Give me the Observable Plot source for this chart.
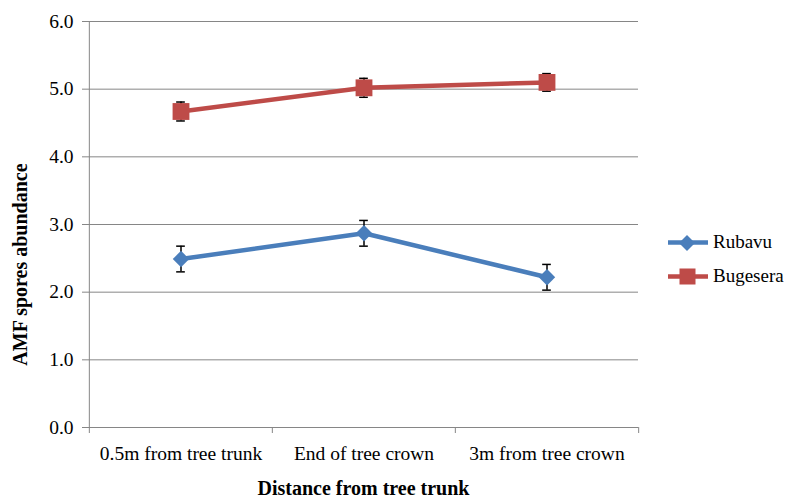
<!DOCTYPE html>
<html>
<head>
<meta charset="utf-8">
<script src="https://cdn.jsdelivr.net/npm/d3@7"></script>
<script src="https://cdn.jsdelivr.net/npm/@observablehq/plot@0.6"></script>
<style>
  html, body { margin: 0; padding: 0; background: #fff; font-family: 'Liberation Serif', serif; }
  #wrap { position: relative; width: 785px; height: 498px; font-family: 'Liberation Serif', serif; }
  #legend { position: absolute; left: 666px; top: 225px; font-size: 19px; color: #000; font-family: 'Liberation Serif', serif; }
  .row { display: flex; align-items: center; height: 34px; }
  .row svg { margin-right: 3px; }
  .row span { font-family: 'Liberation Serif', serif; }
</style>
</head>
<body>
<div id="wrap"><div id="legend"></div></div>
<script>
const categories = ["0.5m from tree trunk", "End of tree crown", "3m from tree crown"];
const seriesNames = ["Rubavu", "Bugesera"];
const rubavuValues = [2.49, 2.87, 2.22];
const rubavuErrors = [0.19, 0.19, 0.19];
const bugeseraValues = [4.67, 5.02, 5.10];
const bugeseraErrors = [0.14, 0.14, 0.13];
const yTicks = [0, 1, 2, 3, 4, 5, 6];
const seriesColors = ["#4A7EBB", "#BE4B48"];
const seriesSymbols = ["diamond2", "square"];
const xTitle = "Distance from tree trunk";
const yTitle = "AMF spores abundance";

const rows = [];
categories.forEach((c, i) => {
  rows.push({cat: c, series: seriesNames[0], value: rubavuValues[i], err: rubavuErrors[i]});
});
categories.forEach((c, i) => {
  rows.push({cat: c, series: seriesNames[1], value: bugeseraValues[i], err: bugeseraErrors[i]});
});

const W = 785, H = 498, mL = 88, mR = 147, mT = 21, mB = 71;
const bw = (W - mL - mR) / categories.length;
const grid = "#868686";
const serif = "'Liberation Serif', serif";

const chart = Plot.plot({
  width: W, height: H,
  marginLeft: mL, marginRight: mR, marginTop: mT, marginBottom: mB,
  style: {fontFamily: serif, fontSize: "19px", color: "#000", background: "#fff", overflow: "visible"},
  x: {type: "band", domain: categories, padding: 0, axis: null},
  y: {domain: [0, 6], axis: null},
  color: {domain: seriesNames, range: seriesColors},
  symbol: {domain: seriesNames, range: seriesSymbols},
  marks: [
    Plot.gridY(yTicks.filter(d => d > 0), {stroke: grid, strokeOpacity: 1, strokeWidth: 1}),
    Plot.ruleY([0], {stroke: grid, strokeWidth: 1}),
    Plot.ruleX([categories[0]], {x: d => d, dx: -bw / 2, y1: 0, y2: 6, stroke: grid}),
    Plot.ruleX(categories, {x: d => d, dx: -bw / 2, y1: 0, y2: 0, insetBottom: -6, stroke: grid}),
    Plot.ruleX([categories[categories.length - 1]], {x: d => d, dx: bw / 2, y1: 0, y2: 0, insetBottom: -6, stroke: grid}),
    Plot.axisY({ticks: yTicks, tickSize: 6, tickPadding: 9, tickFormat: d3.format(".1f"), stroke: grid, color: "#000", fontSize: 19.5, fontFamily: serif, fontVariant: "normal", label: null}),
    Plot.axisX({tickSize: 0, tickPadding: 19, fontSize: 19.5, fontFamily: serif, label: null, color: "#000"}),
    Plot.ruleX(rows, {x: "cat", y1: d => d.value - d.err, y2: d => d.value + d.err, stroke: "#000", strokeWidth: 1.5}),
    Plot.tickY(rows, {x: "cat", y: d => d.value + d.err, insetLeft: bw / 2 - 4.5, insetRight: bw / 2 - 4.5, stroke: "#000", strokeWidth: 1.5}),
    Plot.tickY(rows, {x: "cat", y: d => d.value - d.err, insetLeft: bw / 2 - 4.5, insetRight: bw / 2 - 4.5, stroke: "#000", strokeWidth: 1.5}),
    Plot.line(rows, {x: "cat", y: "value", z: "series", stroke: "series", strokeWidth: 4.5}),
    Plot.dot(rows.filter(d => d.series === seriesNames[0]), {x: "cat", y: "value", symbol: "series", fill: "series", stroke: "none", r: 7.4}),
    Plot.dot(rows.filter(d => d.series === seriesNames[1]), {x: "cat", y: "value", symbol: "series", fill: "series", stroke: "none", r: 9.5}),
    Plot.text([yTitle], {frameAnchor: "left", dx: -68, dy: 40, rotate: -90, textAnchor: "middle", fontWeight: "bold", fontSize: 20, fontFamily: serif}),
    Plot.text([xTitle], {frameAnchor: "bottom", dy: 61, lineAnchor: "middle", textAnchor: "middle", fontWeight: "bold", fontSize: 20, fontFamily: serif})
  ]
});
const wrap = document.getElementById("wrap");
wrap.insertBefore(chart, wrap.firstChild);

// legend
const legend = document.getElementById("legend");
seriesNames.forEach((name, i) => {
  const row = document.createElement("div");
  row.className = "row";
  const sym = i === 0
    ? `<path d="M21,3 L29,11 L21,19 L13,11 Z" fill="${seriesColors[i]}"/>`
    : `<rect x="13.5" y="2.5" width="16" height="16" fill="${seriesColors[i]}"/>`;
  row.innerHTML = `<svg width="44" height="21"><line x1="2" x2="42" y1="10.5" y2="10.5" stroke="${seriesColors[i]}" stroke-width="4.5"/>${sym}</svg><span>${name}</span>`;
  legend.appendChild(row);
});
</script>
</body>
</html>
